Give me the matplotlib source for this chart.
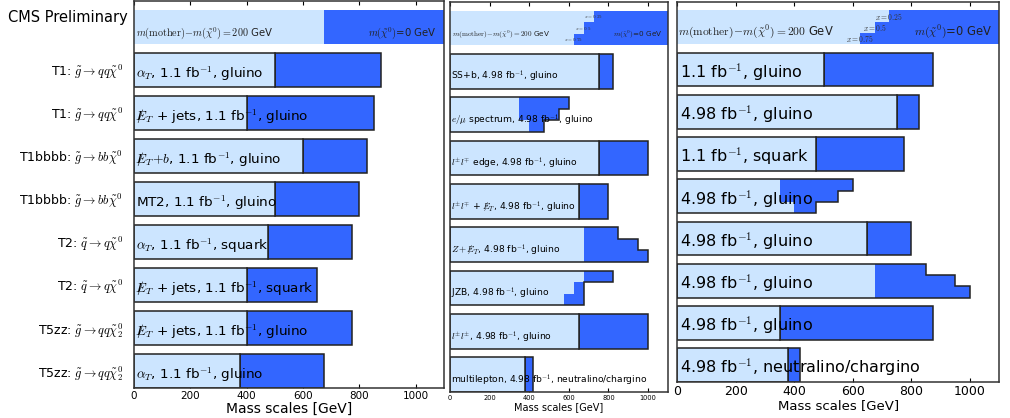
import matplotlib
matplotlib.use("Agg")
import matplotlib.pyplot as plt
from matplotlib.patches import Polygon

plt.rcParams["font.family"] = "DejaVu Sans"
plt.rcParams["mathtext.fontset"] = "cm"

LIGHT = "#cce5ff"
DARK = "#3366ff"
EDGE = "#222222"
XMAX = 1100

# ---------------- data ----------------
# Left panel: 1.1 fb^-1 simplified-model results
left_models = [
    r"T1: $\tilde{g}\rightarrow qq\tilde{\chi}^0$",
    r"T1: $\tilde{g}\rightarrow qq\tilde{\chi}^0$",
    r"T1bbbb: $\tilde{g}\rightarrow bb\tilde{\chi}^0$",
    r"T1bbbb: $\tilde{g}\rightarrow bb\tilde{\chi}^0$",
    r"T2: $\tilde{q}\rightarrow q\tilde{\chi}^0$",
    r"T2: $\tilde{q}\rightarrow q\tilde{\chi}^0$",
    r"T5zz: $\tilde{g}\rightarrow qq\tilde{\chi}_2^0$",
    r"T5zz: $\tilde{g}\rightarrow qq\tilde{\chi}_2^0$",
]
left_texts = [
    r"$\alpha_T$, 1.1 fb$^{-1}$, gluino",
    r"$/\!\!\!\!E_T$ + jets, 1.1 fb$^{-1}$, gluino",
    r"$/\!\!\!\!E_T\!+\!b$, 1.1 fb$^{-1}$, gluino",
    r"MT2, 1.1 fb$^{-1}$, gluino",
    r"$\alpha_T$, 1.1 fb$^{-1}$, squark",
    r"$/\!\!\!\!E_T$ + jets, 1.1 fb$^{-1}$, squark",
    r"$/\!\!\!\!E_T$ + jets, 1.1 fb$^{-1}$, gluino",
    r"$\alpha_T$, 1.1 fb$^{-1}$, gluino",
]
left_light = [[500], [400], [600], [500], [475], [400], [400], [375]]
left_dark = [[875], [850], [825], [800], [775], [650], [775], [675]]

# Middle panel: 4.98 fb^-1 results
mid_texts = [
    r"SS+b, 4.98 fb$^{-1}$, gluino",
    r"$e/\mu$ spectrum, 4.98 fb$^{-1}$, gluino",
    r"$l^{\pm}l^{\mp}$ edge, 4.98 fb$^{-1}$, gluino",
    r"$l^{\pm}l^{\mp}$ + $/\!\!\!\!E_T$, 4.98 fb$^{-1}$, gluino",
    r"$Z+/\!\!\!\!E_T$, 4.98 fb$^{-1}$, gluino",
    r"JZB, 4.98 fb$^{-1}$, gluino",
    r"$l^{\pm}l^{\pm}$, 4.98 fb$^{-1}$, gluino",
    r"multilepton, 4.98 fb$^{-1}$, neutralino/chargino",
]
mid_light = [[750], [350, 350, 400], [750], [650], [675, 675, 675],
             [675, 625, 575], [650], [380]]
mid_dark = [[825], [600, 550, 475], [1000], [800], [850, 950, 1000],
            [825, 675, 675], [1000], [420]]

# Right panel
right_texts = [
    r"1.1 fb$^{-1}$, gluino",
    r"4.98 fb$^{-1}$, gluino",
    r"1.1 fb$^{-1}$, squark",
    r"4.98 fb$^{-1}$, gluino",
    r"4.98 fb$^{-1}$, gluino",
    r"4.98 fb$^{-1}$, gluino",
    r"4.98 fb$^{-1}$, gluino",
    r"4.98 fb$^{-1}$, neutralino/chargino",
]
right_light = [[500], [750], [475], [350, 350, 400], [650], [675, 675, 675],
               [350], [380]]
right_dark = [[875], [825], [775], [600, 550, 475], [800], [850, 950, 1000],
              [875], [420]]

# Header (reference) row
header_light_single = [675]
header_light_x = [725, 675, 625]
x_values = ["0.25", "0.5", "0.75"]
header_left_text = r"$m(\mathrm{mother})\!-\!m(\tilde{\chi}^0)=200$ GeV"
header_right_text = r"$m(\tilde{\chi}^0)$=0 GeV"

ticks = [0, 200, 400, 600, 800, 1000]
xlabel = "Mass scales [GeV]"

H = 0.8


def draw_row(ax, y, lights, darks):
    k = len(lights)
    sh = H / k
    if k == 1:
        kw = dict(edgecolor=EDGE, linewidth=1.1)
        ax.barh(y, darks[0] - lights[0], left=lights[0], height=H,
                color=DARK, **kw)
        ax.barh(y, lights[0], left=0, height=H, color=LIGHT, **kw)
        return
    top = y - H / 2
    for j in range(k):
        yc = top + (j + 0.5) * sh
        ax.barh(yc, darks[j] - lights[j], left=lights[j], height=sh,
                color=DARK, edgecolor="none", linewidth=0)
        ax.barh(yc, lights[j], left=0, height=sh, color=LIGHT,
                edgecolor="none", linewidth=0)
    # outline of the stepped shape
    pts = [(0, top)]
    for j in range(k):
        pts.append((darks[j], top + j * sh))
        pts.append((darks[j], top + (j + 1) * sh))
    pts.append((0, top + H))
    ax.add_patch(Polygon(pts, closed=True, fill=False, edgecolor=EDGE,
                         linewidth=1.1, zorder=3))


def setup(ax, fs_tick, fs_label):
    ax.set_xlim(0, XMAX)
    ax.set_ylim(8.4, -0.6)
    ax.set_axisbelow(True)
    ax.set_xticks(ticks)
    ax.tick_params(axis="x", direction="in", top=True, bottom=True,
                   length=3, width=0.8, labelsize=fs_tick, pad=2)
    ax.set_xlabel(xlabel, fontsize=fs_label, labelpad=1)
    for s in ax.spines.values():
        s.set_linewidth(1.1)
        s.set_color("#333333")


def header(ax, lights, fs_text, fs_x, x_left):
    k = len(lights)
    sh = H / k
    for j in range(k):
        yc = -H / 2 + (j + 0.5) * sh
        ax.barh(yc, XMAX - lights[j], left=lights[j], height=sh,
                color=DARK, edgecolor="none", linewidth=0)
        ax.barh(yc, lights[j], left=0, height=sh, color=LIGHT,
                edgecolor="none", linewidth=0)
        if k > 1:
            ax.text(lights[j], yc, r"$x=%s$" % x_values[j], fontsize=fs_x,
                    ha="center", va="center", color="#333333")
    ax.text(x_left, 0.2, header_left_text, fontsize=fs_text,
            ha="left", va="baseline", color="#222222")
    ax.text(1075, 0.2, header_right_text, fontsize=fs_text,
            ha="right", va="baseline", color="#222222")


fig = plt.figure(figsize=(10.1, 4.18), dpi=100)
axL = fig.add_axes([0.1327, 0.0718, 0.3069, 0.9258])
axM = fig.add_axes([0.4455, 0.0622, 0.2158, 0.9330])
axR = fig.add_axes([0.6705, 0.0861, 0.3188, 0.9091])

# Left panel
setup(axL, 7.5, 10)
header(axL, header_light_single, 7.3, 4, 8)
for i, (lt, dk, txt) in enumerate(zip(left_light, left_dark, left_texts)):
    draw_row(axL, i + 1, lt, dk)
    axL.text(8, i + 1 + 0.19, txt, fontsize=9.7, ha="left", va="baseline")
axL.set_yticks(range(1, 9))
axL.set_yticklabels(left_models, fontsize=9)
axL.tick_params(axis="y", length=0, pad=8)
axL.text(-0.02, -0.22, "CMS Preliminary", fontsize=10.5, ha="right",
         va="center", transform=axL.get_yaxis_transform())

# Middle panel
setup(axM, 4.8, 7)
header(axM, header_light_x, 5.2, 3.6, 8)
for i, (lt, dk, txt) in enumerate(zip(mid_light, mid_dark, mid_texts)):
    draw_row(axM, i + 1, lt, dk)
    axM.text(5, i + 1 + 0.19, txt, fontsize=6.6, ha="left", va="baseline")
axM.set_yticks([])

# Right panel
setup(axR, 9, 9.5)
header(axR, header_light_x, 8.3, 5.5, 3)
for i, (lt, dk, txt) in enumerate(zip(right_light, right_dark, right_texts)):
    draw_row(axR, i + 1, lt, dk)
    axR.text(10, i + 1 + 0.19, txt, fontsize=11.5, ha="left", va="baseline")
axR.set_yticks([])

fig.savefig("out.png", dpi=100)
